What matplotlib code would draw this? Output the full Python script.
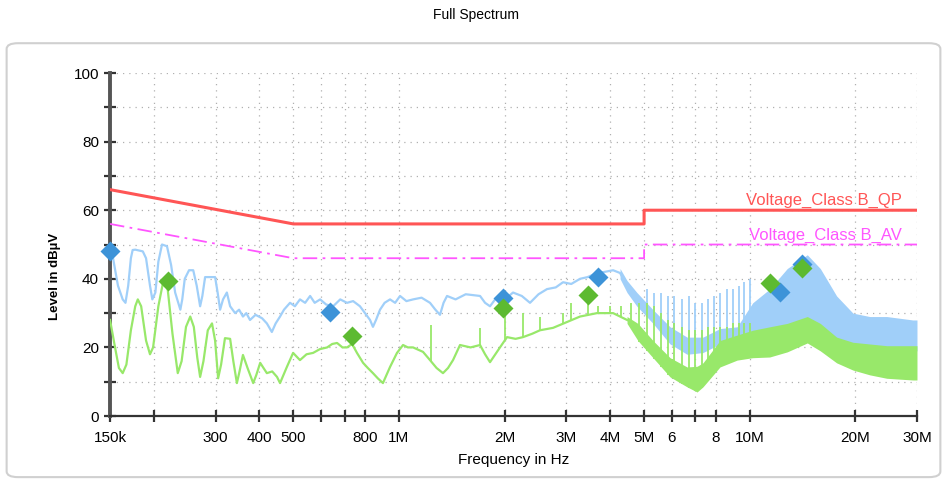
import numpy as np
import matplotlib
matplotlib.use("Agg")
import matplotlib.pyplot as plt
from matplotlib.patches import FancyBboxPatch

plt.rcParams['font.family'] = ['Liberation Sans', 'DejaVu Sans']

# Limit lines (frequency in MHz, level in dBuV)
lim_f = [0.15, 0.5, 5.0, 5.0, 30.0]
lim_qp = [66, 56, 56, 60, 60]
lim_av = [56, 46, 46, 50, 50]

# Peak trace (blue), low frequency part
pk_f = [0.150, 0.153, 0.158, 0.163, 0.166, 0.169, 0.172, 0.174, 0.177, 0.186,
        0.190, 0.195, 0.198, 0.202, 0.206, 0.211, 0.218, 0.224, 0.230, 0.238,
        0.241, 0.245, 0.252, 0.259, 0.265, 0.271, 0.275, 0.280, 0.299, 0.304,
        0.309, 0.315, 0.323, 0.330, 0.341, 0.350, 0.359, 0.367, 0.376, 0.390,
        0.407, 0.420, 0.434, 0.445, 0.458, 0.470, 0.489, 0.505, 0.522, 0.540,
        0.558, 0.575, 0.596, 0.620, 0.649, 0.680, 0.711, 0.740, 0.774, 0.800,
        0.827, 0.843, 0.860, 0.883, 0.910, 0.943, 0.975, 1.007, 1.050, 1.097,
        1.160, 1.226, 1.270, 1.309, 1.340, 1.371, 1.450, 1.550, 1.703, 1.760,
        1.818, 1.880, 1.941, 2.030, 2.115, 2.240, 2.364, 2.500, 2.643, 2.800,
        2.936, 3.100, 3.283, 3.450, 3.671, 3.850, 4.079, 4.270, 4.472]
pk_lvl = [48, 46, 38, 34, 33, 38, 46, 48.4, 48.5, 48,
          46, 38, 34, 36, 45, 50, 49.5, 44, 36, 31,
          34, 40, 42.5, 42.5, 38, 32, 35, 40.5, 40.5, 36,
          31, 34, 36, 32, 30, 31, 29, 30, 28, 29.5,
          28.5, 27, 24.5, 27, 29, 31, 33, 32, 34, 33,
          35, 33, 34, 32.5, 32, 34, 33, 33.5, 32, 30,
          28, 26, 28, 31, 33, 34, 33, 35, 33.5, 34,
          34.5, 33, 31, 29.5, 33, 35, 34, 35.5, 35, 33,
          32, 34, 35, 34.5, 36, 35, 33, 35.5, 37, 37.5,
          39, 38.5, 40, 40.5, 41.7, 42, 42.5, 41.7, 38]

# Peak trace, high frequency band (body low/high, dense spike top)
pkb_f = [4.27, 4.47, 4.77, 5.30, 5.93, 6.63, 7.36, 8.23, 9.21, 10.2,
         11.4, 12.8, 14.6, 15.9, 17.7, 19.7, 22.0, 24.6, 29.2, 30.0]
pkb_lo = [40, 36, 32, 27, 21, 18, 18.5, 21, 23, 23.5,
          24, 24, 27, 25, 22, 21, 20, 19.5, 19, 19]
pkb_hi = [43, 39.5, 36, 31, 26, 23, 23, 25.5, 26, 28,
          30, 32, 36, 33, 28, 26.5, 26.5, 26, 25.5, 25.5]
pkb_top = [43, 39.5, 36, 31, 26, 23, 23, 25.5, 26, 33,
           37, 43, 47, 43, 35, 30, 29, 29, 28, 28]
pk_spike_f = [5.1, 5.35, 5.6, 5.85, 6.1, 6.4, 6.7, 7.0, 7.3, 7.6,
              7.9, 8.25, 8.6, 8.95, 9.3, 9.65, 10.0]
pk_spike_top = [37, 36, 36, 35, 35, 34, 35, 33, 33, 34,
                35, 36, 37, 37, 38, 39, 40]

# Average trace (green), low frequency part
av_f = [0.150, 0.155, 0.159, 0.163, 0.167, 0.172, 0.177, 0.180, 0.184, 0.190,
        0.195, 0.199, 0.206, 0.212, 0.215, 0.219, 0.226, 0.234, 0.240, 0.247,
        0.254, 0.260, 0.266, 0.271, 0.277, 0.285, 0.293, 0.299, 0.305, 0.311,
        0.319, 0.330, 0.337, 0.345, 0.351, 0.359, 0.370, 0.384, 0.392, 0.402,
        0.420, 0.435, 0.449, 0.458, 0.479, 0.499, 0.522, 0.545, 0.569, 0.595,
        0.624, 0.645, 0.666, 0.690, 0.711, 0.735, 0.759, 0.790, 0.815, 0.843,
        0.870, 0.900, 0.943, 0.987, 1.027, 1.060, 1.097, 1.171, 1.226, 1.280,
        1.335, 1.380, 1.426, 1.493, 1.600, 1.703, 1.760, 1.818, 1.941, 2.033,
        2.150, 2.258, 2.400, 2.524, 2.750, 3.013, 3.283, 3.671, 4.079, 4.472]
av_lvl = [28, 20, 14, 12.5, 15, 25, 32, 34, 32, 22,
          18, 20, 32, 38.5, 39, 37, 24, 12.5, 16, 26,
          29, 26, 17, 11.4, 16, 25, 27, 22, 11, 15,
          22.7, 22.5, 16, 9.6, 13, 17.8, 14, 9.6, 12, 15.5,
          12.5, 13, 11.4, 9.6, 14.3, 18.4, 16.3, 18, 18.4, 19.5,
          20, 21, 21.3, 20, 20, 21, 18.4, 15.5, 14, 12.5,
          11, 9.6, 14.3, 18.4, 20.7, 20, 20, 18.7, 16.3, 14,
          12.5, 14, 16.3, 20.7, 20, 20.7, 18, 15.7, 20, 23,
          22.5, 23, 24, 25, 25.7, 27.4, 29, 30, 30, 28]

# Average trace, high frequency band
avb_f = [4.47, 4.80, 5.30, 5.93, 6.63, 7.08, 7.36, 8.23, 9.21, 10.2,
         11.4, 12.8, 14.6, 15.9, 17.7, 19.7, 22.0, 24.6, 29.2, 30.0]
avb_lo = [27, 22, 17, 11.4, 8.5, 7, 8.5, 14.3, 16.3, 17,
          17.2, 18.7, 21.3, 19, 15.5, 13.4, 12, 11, 10.5, 10.5]
avb_hi = [29, 27, 22, 17, 14.3, 14.5, 15.5, 22, 23.6, 25,
          26, 27, 29, 27, 23, 21.5, 21, 20.5, 20.5, 20.5]
av_spike_f = [1.23, 1.70, 2.0, 2.26, 2.52, 2.94, 3.1, 3.46, 3.7, 4.0,
              4.3, 4.6, 4.85, 5.1, 5.35, 5.6, 5.85, 6.1, 6.4, 6.7,
              7.0, 7.3, 7.6, 7.9, 8.25, 8.6, 8.95, 9.3, 9.65, 10.0]
av_spike_top = [26.5, 25.6, 31, 30, 29, 30, 33, 35, 32, 32,
                32, 33, 33, 33, 32, 30, 28, 27, 26, 25,
                25, 25, 26, 26, 26, 26, 27, 27, 27, 27]

# Final measurement markers
qp_mark_f = [0.150, 0.636, 1.98, 3.69, 12.2, 14.1]
qp_mark = [48, 30.3, 34.4, 40.5, 36.2, 44.3]
av_mark_f = [0.219, 0.735, 1.98, 3.46, 11.4, 14.1]
av_mark = [39.4, 23.3, 31.5, 35.3, 38.8, 43.1]

# Axis ticks
tick_f = [0.15, 0.2, 0.3, 0.4, 0.5, 0.6, 0.7, 0.8, 1, 2, 3, 4, 5, 6, 7, 8, 10, 20, 30]
tick_lbl = ['150k', '', '300', '400', '500', '', '', '800', '1M', '2M', '3M',
            '4M', '5M', '6', '', '8', '10M', '20M', '30M']

blue = '#a0cff9'
green = '#98e86a'

M = 1e6
fig = plt.figure(figsize=(9.47, 4.8), dpi=100)
fig.patches.append(FancyBboxPatch((0.007, 0.006), 0.986, 0.904,
                                  boxstyle='round,pad=0,rounding_size=0.012',
                                  transform=fig.transFigure, fc='white',
                                  ec='#d0d0d0', lw=1.5, zorder=-1))
ax = fig.add_axes([0.1162, 0.1333, 0.8521, 0.7146])
ax.set_facecolor('none')

# blue trace
ax.plot(np.array(pk_f) * M, pk_lvl, color=blue, lw=1.6, zorder=2)
pkb_fx = np.array(pkb_f) * M
ax.fill_between(pkb_fx, pkb_lo, pkb_top, color=blue, lw=0, zorder=2)
sp_lo = np.interp(np.log10(pk_spike_f), np.log10(pkb_f), pkb_lo)
ax.vlines(np.array(pk_spike_f) * M, sp_lo, pk_spike_top, color=blue, lw=1.3, zorder=2)

# green trace
ax.plot(np.array(av_f) * M, av_lvl, color=green, lw=1.6, zorder=3)
avb_fx = np.array(avb_f) * M
ax.fill_between(avb_fx, avb_lo, avb_hi, color=green, lw=0, zorder=3)
all_f = np.log10(list(av_f) + avb_f[1:])
all_lo = list(av_lvl) + avb_lo[1:]
sp_lo = np.interp(np.log10(av_spike_f), all_f, all_lo)
ax.vlines(np.array(av_spike_f) * M, sp_lo, av_spike_top, color=green, lw=1.3, zorder=3)

# limits
ax.plot(np.array(lim_f) * M, lim_qp, color='#ff5555', lw=2.2, zorder=4)
ax.plot(np.array(lim_f) * M, lim_av, color='#ff55ff', lw=1.3, ls=(0, (8, 3, 1.5, 3)), zorder=4)
ax.text(27.2 * M, 60.6, 'Voltage_Class B_QP', color='#ff5555', fontsize=12,
        ha='right', va='bottom', zorder=5)
ax.text(27.2 * M, 50.4, 'Voltage_Class B_AV', color='#ff55ff', fontsize=12,
        ha='right', va='bottom', zorder=5)

# markers
ax.plot(np.array(qp_mark_f) * M, qp_mark, 'D', color='#3d93d8', ms=10.5, mec='none',
        zorder=6, clip_on=False)
ax.plot(np.array(av_mark_f) * M, av_mark, 'D', color='#5dba31', ms=10.5, mec='none',
        zorder=6, clip_on=False)

ax.set_xscale('log')
ax.set_xlim(0.15 * M, 30 * M)
ax.set_ylim(0, 100)
ax.set_xticks(np.array(tick_f) * M)
ax.set_xticklabels(tick_lbl)
ax.xaxis.set_minor_locator(plt.NullLocator())
ax.set_yticks([0, 20, 40, 60, 80, 100])
ax.set_yticks([10, 30, 50, 70, 90], minor=True)
ax.grid(which='both', ls=(0, (1, 4)), color='#b0b0b0', lw=0.9)
ax.tick_params(which='both', direction='inout', length=9, width=1.6,
               colors='#333333', labelsize=11, labelcolor='black')
ax.tick_params(axis='x', pad=6)

for s in ['top', 'right']:
    ax.spines[s].set_visible(False)
ax.spines['left'].set_linewidth(2.8)
ax.spines['left'].set_color('#555555')
ax.spines['bottom'].set_linewidth(1.6)
ax.spines['bottom'].set_color('#333333')

ax.set_xlabel('Frequency in Hz', fontsize=11, labelpad=6)
fig.text(0.058, 0.333, 'Level in dBµV', rotation=90, fontsize=9.5,
         fontweight='bold', ha='center', va='bottom')
fig.text(0.503, 0.968, 'Full Spectrum', fontsize=10, ha='center', va='center')

fig.savefig('out.png', dpi=100)
